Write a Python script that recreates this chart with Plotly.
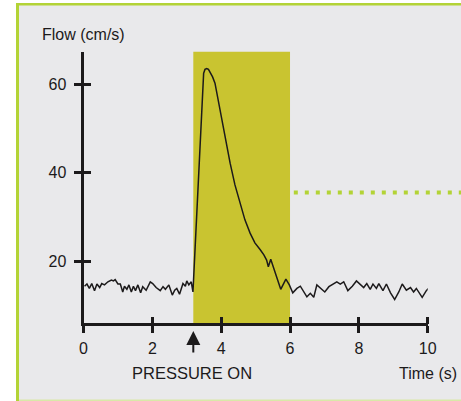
import plotly.graph_objects as go

# ---------------- data ----------------
TIME = [0.03, 0.10, 0.17, 0.24, 0.32, 0.39, 0.47, 0.53, 0.61, 0.71, 0.81, 0.87, 0.92,
        1.00, 1.07, 1.14, 1.19, 1.26, 1.32, 1.39, 1.45, 1.51, 1.58, 1.66, 1.72, 1.82,
        1.94, 2.01, 2.11, 2.23, 2.31, 2.38, 2.48, 2.58, 2.65, 2.71, 2.79, 2.89, 2.96,
        3.00, 3.06, 3.13, 3.18,
        3.34, 3.49, 3.53, 3.58, 3.63, 3.68, 3.75, 3.82, 3.97, 4.11, 4.26, 4.40, 4.55,
        4.69, 4.84, 4.98, 5.13, 5.24, 5.32, 5.37, 5.44, 5.51, 5.61, 5.73, 5.88, 5.98,
        6.08, 6.20, 6.30, 6.40, 6.49, 6.59, 6.69, 6.78, 6.91, 7.01, 7.13, 7.24, 7.36,
        7.46, 7.56, 7.68, 7.81, 7.93, 8.04, 8.14, 8.23, 8.33, 8.41, 8.51, 8.58, 8.70,
        8.80, 8.92, 9.04, 9.16, 9.26, 9.38, 9.50, 9.59, 9.67, 9.75, 9.84, 9.96, 10.02]
FLOW = [14.3, 14.8, 13.8, 14.9, 13.3, 14.8, 14.0, 14.9, 14.6, 15.3, 15.7, 15.5, 15.8,
        14.8, 14.8, 13.0, 14.3, 13.6, 14.6, 13.0, 14.3, 13.3, 14.6, 12.8, 14.2, 13.4,
        15.3, 14.9, 14.0, 13.3, 14.2, 13.6, 14.6, 12.3, 13.4, 13.8, 12.5, 14.9, 14.3,
        15.5, 14.6, 15.3, 13.0,
        37.5, 62.4, 63.3, 63.5, 63.3, 62.6, 61.6, 60.2, 54.1, 47.7, 42.1, 37.2, 33.0,
        29.3, 26.3, 24.1, 22.6, 21.4, 20.2, 18.7, 20.4, 18.7, 16.5, 13.6, 15.9, 14.6,
        12.8, 13.8, 14.3, 13.0, 11.9, 12.7, 11.8, 14.6, 13.6, 13.0, 14.2, 14.8, 15.3,
        14.8, 15.3, 13.3, 14.3, 15.5, 14.6, 14.0, 14.9, 13.6, 14.8, 13.8, 14.9, 13.3,
        14.8, 12.8, 11.3, 13.0, 14.8, 13.4, 14.0, 13.0, 13.8, 12.8, 11.8, 13.3, 13.8]

PRESSURE_WINDOW = [3.19, 6.0]      # s, shaded period
PRESSURE_TOP = 67.7                # cm/s, top of shaded period
PRESSURE_ON_T = 3.19               # s
REF_T = [6.11, 10.97]              # dotted reference level
REF_FLOW = [35.5, 35.5]
X_TICKS = [0, 2, 4, 6, 8, 10]
Y_TICKS = [20, 40, 60]
X_RANGE = [0, 10]
Y_RANGE = [5.9, 67.3]

# ---------------- layout geometry ----------------
W, H = 461, 401
PL, PR = 83.5, 427.7     # plot left/right px
PB, PT = 323.4, 51.7     # plot bottom/top px
px_per_s = (PR - PL) / (X_RANGE[1] - X_RANGE[0])
x_dom = [PL / W, PR / W]
y_dom = [1 - PB / H, 1 - PT / H]
x2_range = [0, (W - PL) / px_per_s]
EPS = 1e-6   # keeps the inward tick halves from being merged with the major ticks

INK = "#1c1a1b"
FONT = "Liberation Sans, Arial, Helvetica, sans-serif"
YELLOW = "#c9c430"
LIME = "#b3d336"
BG = "#e9e9eb"

fig = go.Figure()
fig.add_trace(go.Scatter(x=TIME, y=FLOW, mode="lines", xaxis="x", yaxis="y",
                         line=dict(color=INK, width=1.5), hoverinfo="skip"))
fig.add_trace(go.Scatter(x=REF_T, y=REF_FLOW, mode="lines", xaxis="x2", yaxis="y",
                         line=dict(color=LIME, width=4, dash="4px,7px"), hoverinfo="skip"))

shapes = [
    dict(type="rect", xref="paper", yref="paper", x0=18 / W, x1=1, y0=0, y1=1 - 4.5 / H,
         fillcolor=BG, line=dict(width=0), layer="below"),
    dict(type="rect", xref="paper", yref="paper", x0=16 / W, x1=19 / W, y0=0, y1=1 - 3 / H,
         fillcolor=LIME, line=dict(width=0), layer="below"),
    dict(type="rect", xref="paper", yref="paper", x0=16 / W, x1=1, y0=1 - 5.5 / H, y1=1 - 3 / H,
         fillcolor=LIME, line=dict(width=0), layer="below"),
    dict(type="rect", xref="paper", yref="paper", x0=19 / W, x1=1, y0=0, y1=1.5 / H,
         fillcolor="#d9e8a8", line=dict(width=0), layer="below"),
    dict(type="rect", xref="x", yref="y", x0=PRESSURE_WINDOW[0], x1=PRESSURE_WINDOW[1],
         y0=Y_RANGE[0], y1=PRESSURE_TOP, fillcolor=YELLOW, line=dict(width=0), layer="below"),
]

tickfont = dict(family=FONT, size=16, color=INK)
common = dict(showgrid=False, zeroline=False, tickcolor=INK, tickwidth=2.5, ticklen=7,
              fixedrange=True, automargin=False)

annotations = [
    dict(text="Flow (cm/s)", xref="paper", yref="paper", x=40 / W, y=1 - 34 / H,
         xanchor="left", yanchor="middle", showarrow=False,
         font=dict(family=FONT, size=16, color=INK)),
    dict(text="PRESSURE ON", xref="paper", yref="paper", x=192.2 / W, y=1 - 372.5 / H,
         xanchor="center", yanchor="middle", showarrow=False,
         font=dict(family=FONT, size=16.5, color=INK)),
    dict(text="Time (s)", xref="paper", yref="paper", x=458.5 / W, y=1 - 373 / H,
         xanchor="right", yanchor="middle", showarrow=False,
         font=dict(family=FONT, size=16, color=INK)),
    dict(text="", xref="x", yref="paper", x=PRESSURE_ON_T, y=1 - 331 / H,
         showarrow=True, ax=0, ay=23, arrowhead=2, arrowsize=1.4, arrowwidth=2,
         arrowcolor=INK, standoff=0),
]

x_inner = [v + EPS for v in X_TICKS if v > X_RANGE[0]]
y_inner = [v + EPS for v in Y_TICKS]

fig.update_layout(
    width=W, height=H, autosize=False,
    margin=dict(l=0, r=0, t=0, b=0, pad=0),
    paper_bgcolor="white", plot_bgcolor="rgba(0,0,0,0)",
    showlegend=False,
    shapes=shapes, annotations=annotations,
    xaxis=dict(domain=x_dom, range=X_RANGE, anchor="y", tickmode="array", tickvals=X_TICKS,
               ticks="outside", showline=True, linewidth=2.7, linecolor=INK,
               tickfont=tickfont, ticklabelstandoff=2,
               minor=dict(tickmode="array", tickvals=x_inner, ticks="inside", ticklen=7,
                          tickwidth=2.5, tickcolor=INK, showgrid=False),
               **common),
    xaxis2=dict(domain=[PL / W, 1], range=x2_range, anchor="y", visible=False,
                fixedrange=True, automargin=False),
    yaxis=dict(domain=y_dom, range=Y_RANGE, anchor="x", tickmode="array", tickvals=Y_TICKS,
               ticks="outside", showline=True, linewidth=3, linecolor=INK,
               tickfont=tickfont, ticklabelstandoff=4,
               minor=dict(tickmode="array", tickvals=y_inner, ticks="inside", ticklen=7,
                          tickwidth=2.5, tickcolor=INK, showgrid=False),
               **common),
)

fig.write_html(
    "out.html",
    config={"displayModeBar": False},
    post_script="document.body.style.margin='0';document.body.style.overflow='hidden';",
)
